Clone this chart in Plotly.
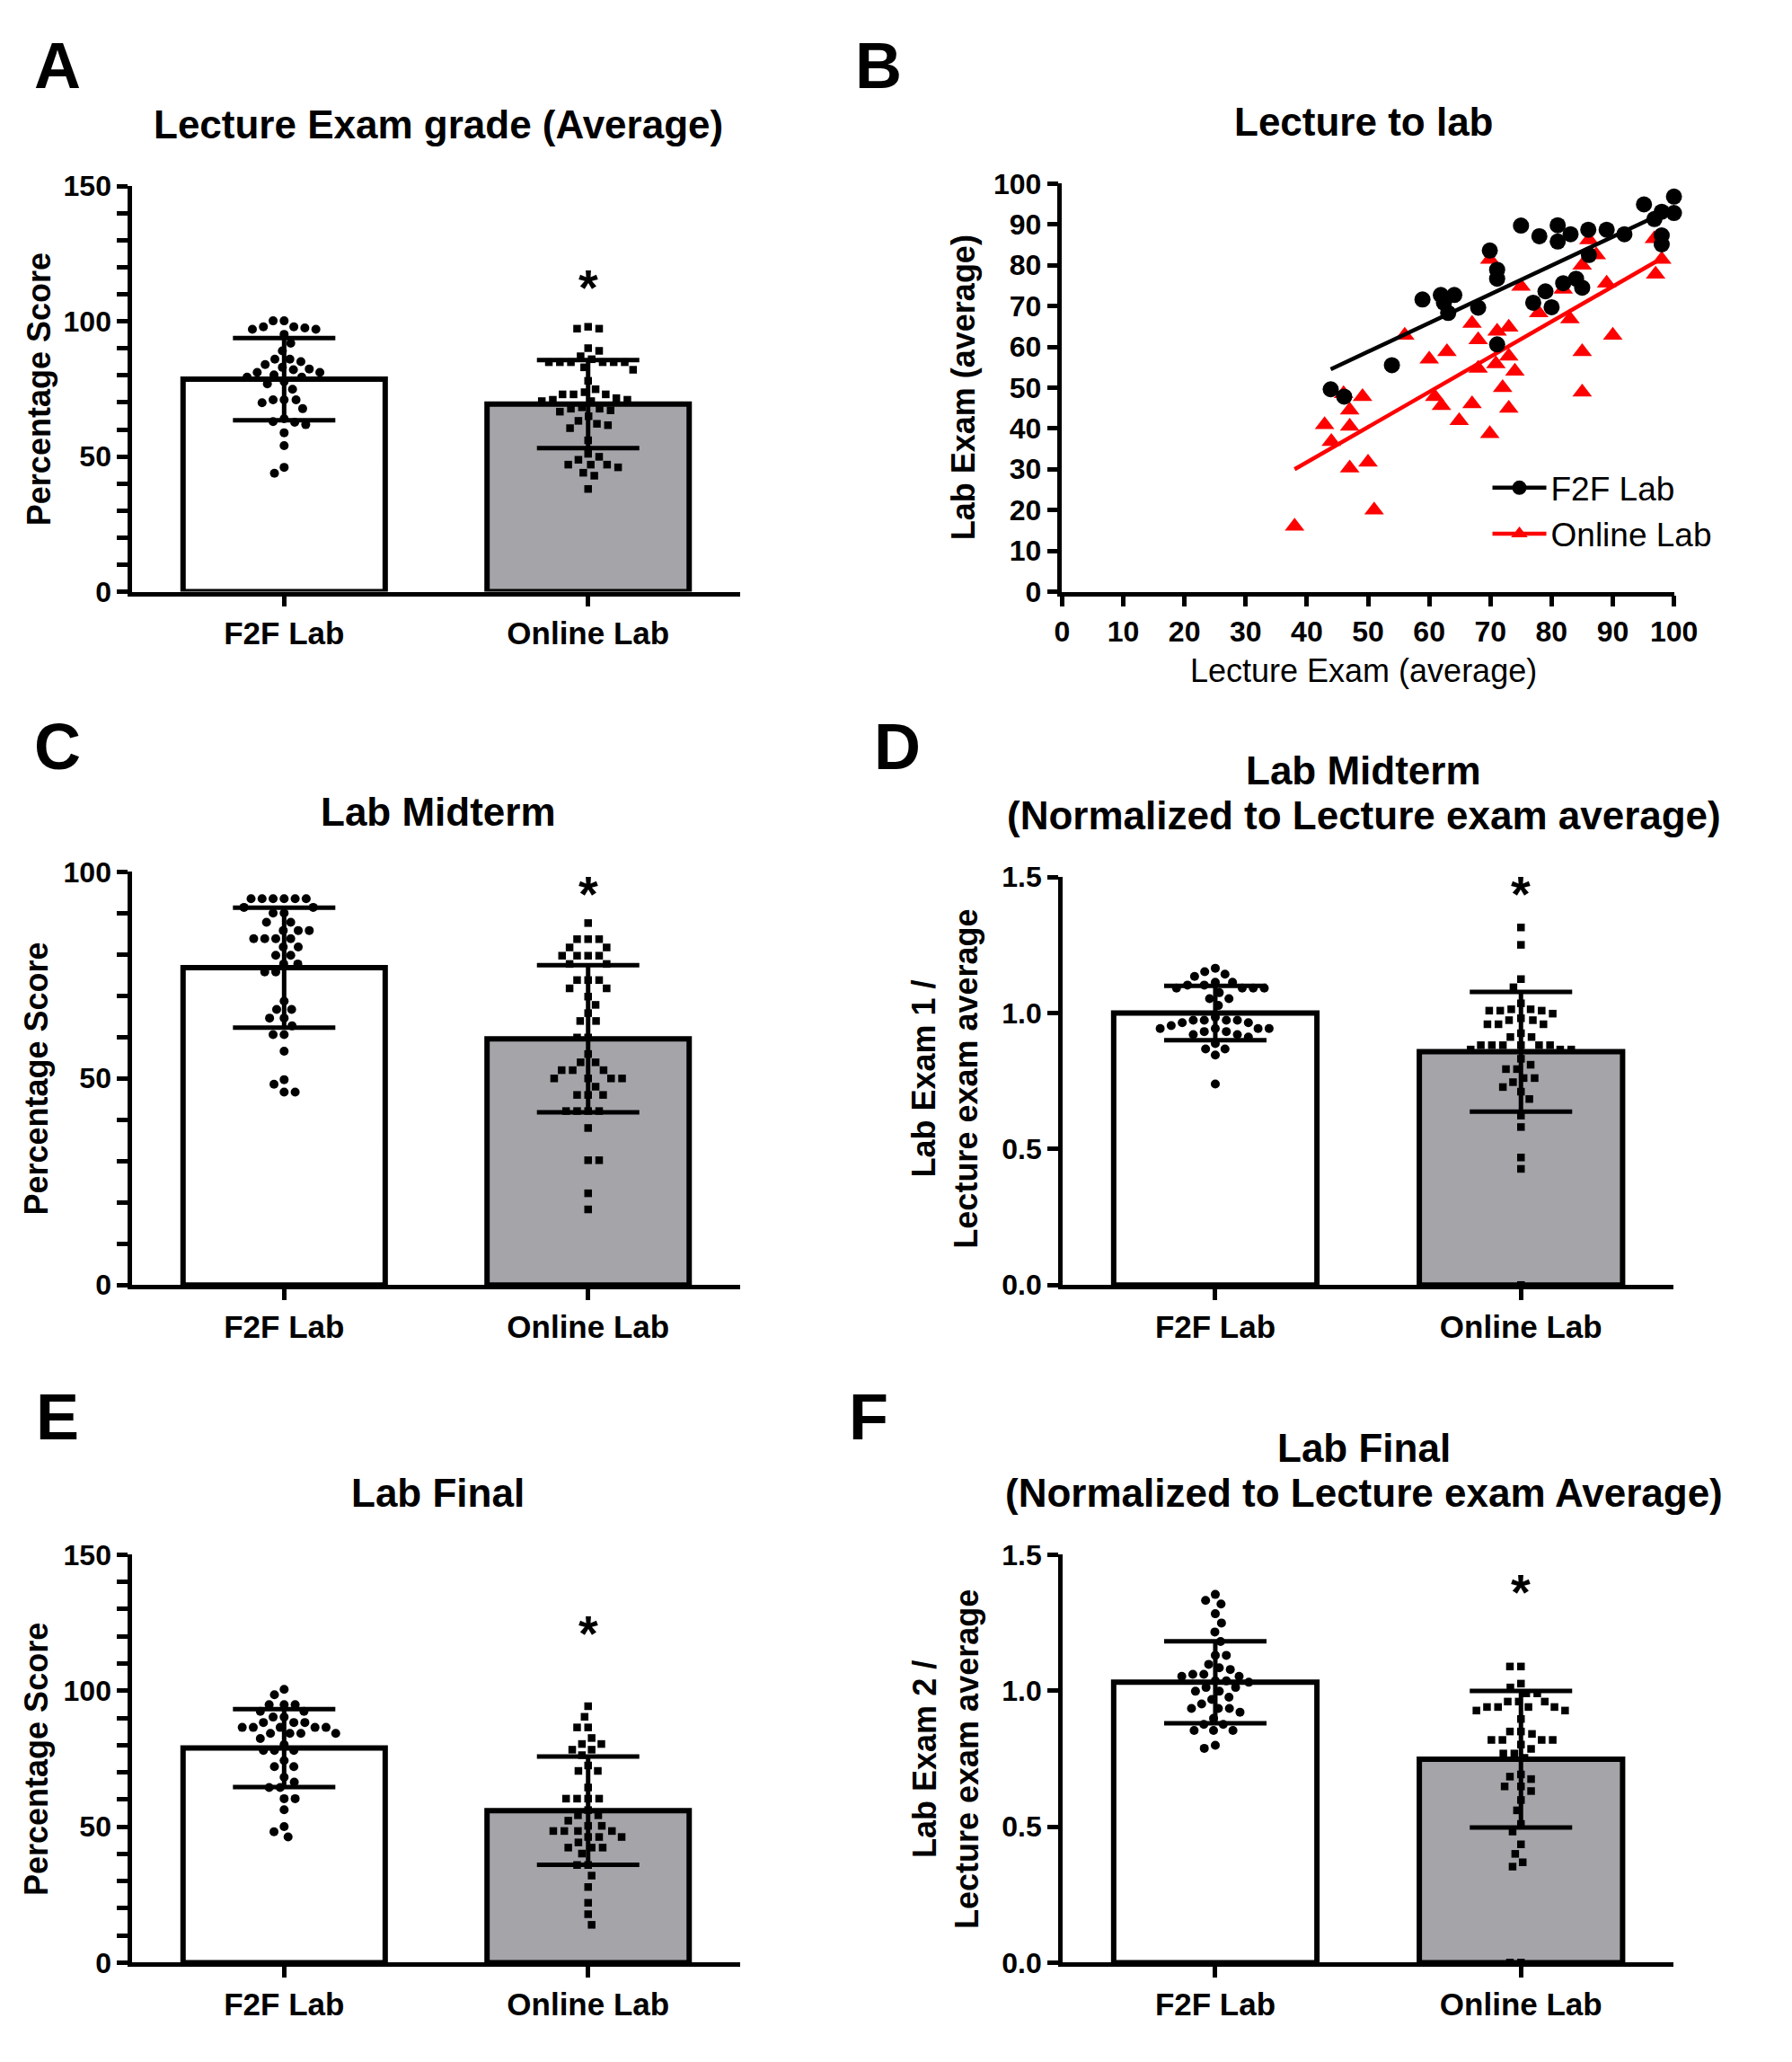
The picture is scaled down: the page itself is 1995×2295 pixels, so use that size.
import numpy as np
import plotly.graph_objects as go

# ---------------- DATA ----------------
categories = ["F2F Lab", "Online Lab"]

# Panel A: Lecture exam grade (average)
lecture_f2f = [100.2, 97.6, 97.1, 97.1, 98.0, 98.0, 100.2, 95.2, 91.9, 89.1, 86.0, 85.1, 86.0,
               84.0, 82.4, 81.1, 80.2, 81.1, 82.1, 83.0, 79.4, 79.4, 76.9, 77.7, 74.9, 71.0,
               69.9, 71.0, 71.0, 67.7, 62.9, 61.8, 64.0, 62.7, 58.8, 54.0, 46.0, 43.8]
lecture_online = [98.0, 97.3, 97.3, 90.1, 89.1, 86.0, 84.9, 84.9, 84.9, 84.9, 87.1, 84.9, 84.9,
                  83.0, 82.1, 78.0, 73.8, 73.0, 73.0, 73.0, 74.9, 71.0, 70.5, 71.6, 70.5, 71.0,
                  68.2, 67.7, 67.1, 67.7, 64.9, 66.6, 63.2, 61.6, 60.5, 62.1, 56.0, 51.0, 49.9,
                  48.8, 47.0, 47.0, 46.0, 47.0, 44.0, 42.9, 38.0]
lecture_mean = [78.6, 69.4]
lecture_sd = [15.2, 16.3]

# Panel B: Lecture to lab scatter
b_f2f_x = [43.9, 46.1, 53.9, 58.9, 61.9, 64.1, 62.4, 63.1, 68.0, 69.9, 71.1, 71.1, 71.1, 75.0,
           78.0, 81.0, 81.0, 83.1, 81.9, 84.0, 85.0, 79.0, 77.0, 80.0, 86.0, 86.1, 89.0, 91.9,
           95.1, 96.8, 98.0, 100.0, 100.0, 98.0, 98.0]
b_f2f_y = [49.6, 47.8, 55.5, 71.6, 72.7, 72.7, 70.8, 68.3, 69.6, 83.6, 78.9, 76.7, 60.6, 89.7,
           87.1, 89.8, 85.8, 87.6, 75.6, 76.7, 74.5, 73.6, 70.8, 69.7, 88.7, 82.5, 88.7, 87.6,
           94.9, 91.3, 93.1, 96.8, 92.8, 87.3, 85.1]
b_online_x = [38, 42.9, 44, 46, 47, 47, 49.1, 47, 50, 51, 56, 60, 62.9, 60.9, 62, 64.9, 67, 67,
              68, 68, 69.9, 69.9, 71.1, 73, 70.9, 73, 74, 72, 73, 75, 77.9, 81.9, 83, 85, 85, 85,
              86.1, 87.3, 89, 90, 96.8, 98, 97]
b_online_y = [16, 40.9, 36.8, 48.5, 44.5, 40.5, 47.8, 30.3, 31.7, 20, 62.8, 57, 58.8, 47.8, 45.6,
              41.9, 46, 65.7, 61.7, 54.7, 38.7, 81.4, 63.8, 64.8, 55.8, 57.7, 54, 50, 44.9, 74.8,
              68.3, 74.1, 66.8, 58.8, 48.9, 80, 86.2, 82.5, 75.6, 62.8, 86.5, 81.4, 77.8]

# Panel C: Lab midterm
mid_f2f = [93.5, 93.5, 93.5, 93.5, 93.5, 93.5, 91.4, 91.4, 90.0, 90.0, 87.8, 87.8, 85.8, 85.8,
           85.8, 83.8, 83.8, 83.8, 83.8, 81.8, 81.8, 79.8, 79.8, 77.7, 77.7, 75.8, 75.8, 68.7,
           66.7, 66.7, 64.6, 64.6, 62.7, 60.6, 60.6, 56.6, 49.7, 48.6, 46.7, 46.7]
mid_online = [87.6, 83.7, 83.7, 83.7, 81.7, 81.7, 79.7, 79.7, 79.7, 79.7, 77.7, 77.7, 73.8, 73.8,
              73.8, 71.8, 71.8, 69.8, 67.8, 65.8, 63.9, 63.9, 59.9, 59.9, 55.9, 53.9, 53.9, 52.0,
              52.0, 52.0, 50.0, 50.0, 50.0, 50.0, 48.0, 46.0, 46.0, 46.0, 42.1, 42.1, 42.1, 42.1,
              38.0, 30.2, 30.2, 22.2, 18.3]
mid_mean = [76.8, 59.6]
mid_sd = [14.5, 17.8]

# Panel D: Lab midterm normalized
midn_f2f = [1.165, 1.152, 1.143, 1.135, 1.113, 1.113, 1.103, 1.103, 1.092, 1.092, 1.092, 1.092,
            1.075, 1.053, 1.053, 1.028, 0.985, 0.974, 0.974, 0.974, 0.974, 0.965, 0.965, 0.954,
            0.943, 0.943, 0.943, 0.943, 0.932, 0.932, 0.921, 0.921, 0.912, 0.888, 0.868, 0.868,
            0.846, 0.739]
midn_online = [1.315, 1.251, 1.125, 1.095, 1.036, 1.014, 1.014, 1.009, 1.009, 1.009, 0.998, 0.981,
               0.974, 0.974, 0.959, 0.959, 0.959, 0.926, 0.912, 0.912, 0.882, 0.882, 0.882, 0.882,
               0.882, 0.882, 0.866, 0.866, 0.866, 0.832, 0.810, 0.794, 0.794, 0.761, 0.761, 0.746,
               0.728, 0.711, 0.684, 0.623, 0.581, 0.469, 0.427, 0.0]
midn_mean = [1.0, 0.858]
midn_sd = [0.10, 0.22]

# Panel E: Lab final
fin_f2f = [100.5, 98.5, 94.9, 94.9, 94.9, 92.4, 92.4, 90.3, 90.3, 88.3, 88.3, 88.3, 86.5, 86.5,
           86.5, 86.5, 86.5, 84.3, 84.3, 84.3, 84.3, 82.4, 80.2, 78.0, 78.0, 78.0, 74.3, 72.1,
           72.1, 68.2, 66.4, 64.4, 64.4, 60.3, 60.3, 56.2, 50.0, 48.1, 46.2]
fin_online = [94.3, 90.4, 86.5, 86.5, 82.6, 80.4, 80.4, 78.3, 78.3, 76.3, 72.5, 70.5, 70.5, 64.4,
              60.3, 60.3, 60.3, 60.3, 56.1, 54.2, 54.2, 52.2, 50.3, 50.3, 48.4, 48.4, 48.4, 48.4,
              46.2, 46.2, 46.2, 44.2, 42.3, 42.3, 42.3, 40.1, 35.9, 35.9, 32.0, 27.8, 22.0, 17.8,
              13.9]
fin_mean = [78.9, 55.9]
fin_sd = [14.3, 19.9]

# Panel F: Lab final normalized
finn_f2f = [1.354, 1.332, 1.319, 1.283, 1.249, 1.216, 1.181, 1.130, 1.130, 1.097, 1.084, 1.078,
            1.060, 1.060, 1.053, 1.053, 1.036, 1.036, 1.031, 1.012, 1.012, 0.998, 0.998, 0.976,
            0.968, 0.951, 0.935, 0.935, 0.935, 0.921, 0.898, 0.876, 0.876, 0.854, 0.854, 0.854,
            0.799, 0.788]
finn_online = [1.089, 1.089, 1.026, 1.012, 0.990, 0.990, 0.960, 0.960, 0.960, 0.940, 0.940, 0.940,
               0.940, 0.927, 0.927, 0.896, 0.850, 0.850, 0.841, 0.819, 0.819, 0.819, 0.819, 0.802,
               0.786, 0.769, 0.769, 0.753, 0.692, 0.684, 0.675, 0.648, 0.648, 0.631, 0.598, 0.560,
               0.510, 0.482, 0.435, 0.400, 0.369, 0.353, 0.0, 0.0]
finn_mean = [1.031, 0.748]
finn_sd = [0.151, 0.251]

# tick labels
pct150_ticks = [0, 10, 20, 30, 40, 50, 60, 70, 80, 90, 100, 110, 120, 130, 140, 150]
pct150_labels = ["0", "", "", "", "", "50", "", "", "", "", "100", "", "", "", "", "150"]
pct100_ticks = [0, 10, 20, 30, 40, 50, 60, 70, 80, 90, 100]
pct100_labels = ["0", "", "", "", "", "50", "", "", "", "", "100"]
ratio_ticks = [0.0, 0.5, 1.0, 1.5]
ratio_labels = ["0.0", "0.5", "1.0", "1.5"]
scatter_ticks = [0, 10, 20, 30, 40, 50, 60, 70, 80, 90, 100]
scatter_labels = ["0", "10", "20", "30", "40", "50", "60", "70", "80", "90", "100"]

# ---------------- STYLE / LAYOUT ----------------
W, H = 1995, 2295
FONT = "Liberation Sans, Arial, sans-serif"
GRAY = "#a5a4a9"


def yc(v):
    # small vertical calibration of paper positions
    return v + 0.0017 + 0.0068 * (v - 0.04)


XL = [0.0705, 0.4160]
XR = [0.5992, 0.9466]
XB = [0.5990, 0.9467]
Y1 = [yc(0.7102), yc(0.9086)]
Y1B = [yc(0.7102), yc(0.9099)]
Y2L = [yc(0.3709), yc(0.5731)]
Y2R = [yc(0.3709), yc(0.5705)]
Y3 = [yc(0.0393), yc(0.2389)]

star_y = {"A": 116, "C": 97, "E": 124.5, "D": 1.474, "F": 1.398}


def swarm(values, px_x, px_y, gap):
    vals = np.asarray(values, float)
    order = np.argsort(-vals, kind="stable")
    placed = []
    offs = np.zeros(len(vals))
    for cnt, i in enumerate(order):
        y = vals[i] * px_y
        n = 0
        found = None
        while found is None:
            if n == 0:
                cands = [0.0]
            else:
                cands = [n * 0.5, -n * 0.5] if cnt % 2 == 0 else [-n * 0.5, n * 0.5]
            for c in cands:
                if all((c - ox) ** 2 + (y - oy) ** 2 >= gap ** 2 for ox, oy in placed):
                    found = c
                    break
            n += 1
        placed.append((found, y))
        offs[i] = found / px_x
    return offs


fig = go.Figure()

axis_common = dict(showline=True, linewidth=4.5, linecolor="black", ticks="outside",
                   ticklen=12, tickwidth=4.5, tickcolor="black", showgrid=False,
                   zeroline=False,
                   tickfont=dict(family=FONT, size=32, color="black", weight="bold"))

bar_panels = [
    ("A", "", XL, Y1, lecture_f2f, lecture_online, lecture_mean, lecture_sd, [0, 150], pct150_ticks, pct150_labels),
    ("C", "3", XL, Y2L, mid_f2f, mid_online, mid_mean, mid_sd, [0, 100], pct100_ticks, pct100_labels),
    ("D", "4", XR, Y2R, midn_f2f, midn_online, midn_mean, midn_sd, [0, 1.5], ratio_ticks, ratio_labels),
    ("E", "5", XL, Y3, fin_f2f, fin_online, fin_mean, fin_sd, [0, 150], pct150_ticks, pct150_labels),
    ("F", "6", XR, Y3, finn_f2f, finn_online, finn_mean, finn_sd, [0, 1.5], ratio_ticks, ratio_labels),
]

annotations = []
layout_axes = {}

for key, sfx, xd, yd, f2f, onl, mean, sd, yr, tv, tt in bar_panels:
    xa = "x" + sfx
    ya = "y" + sfx
    px_x = (xd[1] - xd[0]) * W / 2.0
    px_y = (yd[1] - yd[0]) * H / (yr[1] - yr[0])
    fig.add_trace(go.Bar(x=[0, 1], y=mean, width=0.665, xaxis=xa, yaxis=ya,
                         marker=dict(color=["white", GRAY], line=dict(color="black", width=6)),
                         showlegend=False, hoverinfo="skip"))
    off_f = swarm(f2f, px_x, px_y, 12.5)
    off_o = swarm(onl, px_x, px_y, 12.5)
    fig.add_trace(go.Scatter(x=0 + off_f, y=f2f, mode="markers", xaxis=xa, yaxis=ya,
                             marker=dict(symbol="circle", size=10, color="black"),
                             cliponaxis=False, showlegend=False))
    fig.add_trace(go.Scatter(x=1 + off_o, y=onl, mode="markers", xaxis=xa, yaxis=ya,
                             marker=dict(symbol="square", size=8.5, color="black"),
                             cliponaxis=False, showlegend=False))
    fig.add_trace(go.Scatter(x=[0, 1], y=mean, mode="markers", xaxis=xa, yaxis=ya,
                             marker=dict(size=1, color="rgba(0,0,0,0)"),
                             error_y=dict(type="data", array=sd, width=57, thickness=5,
                                          color="black"),
                             cliponaxis=False, showlegend=False))
    layout_axes["xaxis" + sfx] = dict(axis_common, domain=xd, anchor=ya, range=[-0.5, 1.5],
                                      tickvals=[0, 1], ticktext=categories, fixedrange=True,
                                      tickfont=dict(family=FONT, size=35, color="black",
                                                    weight="bold"))
    layout_axes["yaxis" + sfx] = dict(axis_common, domain=yd, anchor=xa, range=yr,
                                      tickvals=tv, ticktext=tt)
    annotations.append(dict(x=1, y=star_y[key], xref=xa, yref=ya, text="*", showarrow=False,
                            font=dict(family=FONT, size=56, color="black", weight="bold"),
                            yanchor="middle", yshift=-10))

# Panel B scatter
fit_f = np.polyfit(b_f2f_x, b_f2f_y, 1)
fit_o = np.polyfit(b_online_x, b_online_y, 1)
fx = np.array([min(b_f2f_x), max(b_f2f_x)])
ox = np.array([min(b_online_x), max(b_online_x)])

fig.add_trace(go.Scatter(x=b_online_x, y=b_online_y, mode="markers", xaxis="x2", yaxis="y2",
                         marker=dict(symbol="triangle-up", size=19, color="#ff0000"),
                         cliponaxis=False, showlegend=False))
fig.add_trace(go.Scatter(x=ox, y=np.polyval(fit_o, ox), mode="lines", xaxis="x2", yaxis="y2",
                         line=dict(color="#ff0000", width=4.5), showlegend=False))
fig.add_trace(go.Scatter(x=b_f2f_x, y=b_f2f_y, mode="markers", xaxis="x2", yaxis="y2",
                         marker=dict(symbol="circle", size=18, color="black"),
                         cliponaxis=False, showlegend=False))
fig.add_trace(go.Scatter(x=fx, y=np.polyval(fit_f, fx), mode="lines", xaxis="x2", yaxis="y2",
                         line=dict(color="black", width=4.5), showlegend=False))
fig.add_trace(go.Scatter(x=[None], y=[None], mode="lines+markers", xaxis="x2", yaxis="y2",
                         name="F2F Lab", line=dict(color="black", width=4.5),
                         marker=dict(symbol="circle", size=18, color="black")))
fig.add_trace(go.Scatter(x=[None], y=[None], mode="lines+markers", xaxis="x2", yaxis="y2",
                         name="Online Lab", line=dict(color="#ff0000", width=4.5),
                         marker=dict(symbol="triangle-up", size=19, color="#ff0000")))

layout_axes["xaxis2"] = dict(axis_common, domain=XB, anchor="y2", range=[0, 100],
                             tickvals=scatter_ticks, ticktext=scatter_labels)
layout_axes["yaxis2"] = dict(axis_common, domain=Y1B, anchor="x2", range=[0, 100],
                             tickvals=scatter_ticks, ticktext=scatter_labels)


def ann(x, y, text, size, bold=True, angle=0):
    return dict(x=x, y=yc(y), xref="paper", yref="paper", text=text, showarrow=False,
                textangle=angle, xanchor="center", yanchor="middle",
                font=dict(family=FONT, size=size, color="black",
                          weight="bold" if bold else "normal"))


for letter, lx, ly in [("A", 0.0281, 0.9678), ("B", 0.4948, 0.9678), ("C", 0.0281, 0.6343),
                       ("D", 0.5052, 0.6343), ("E", 0.0281, 0.3065), ("F", 0.4889, 0.3065)]:
    annotations.append(ann(lx, ly, letter, 72))

annotations += [
    ann(0.2444, 0.9388, "Lecture Exam grade (Average)", 44),
    ann(0.7705, 0.9400, "Lecture to lab", 44),
    ann(0.2444, 0.6027, "Lab Midterm", 44),
    ann(0.7705, 0.6227, "Lab Midterm", 44),
    ann(0.7705, 0.6008, "(Normalized to Lecture exam average)", 44),
    ann(0.2444, 0.2692, "Lab Final", 44),
    ann(0.7705, 0.2910, "Lab Final", 44),
    ann(0.7705, 0.2692, "(Normalized to Lecture exam Average)", 44),
    ann(0.0180, 0.8094, "Percentage Score", 36, angle=-90),
    ann(0.0160, 0.4720, "Percentage Score", 36, angle=-90),
    ann(0.0160, 0.1390, "Percentage Score", 36, angle=-90),
    ann(0.5430, 0.8100, "Lab Exam (average)", 36, angle=-90),
    ann(0.7705, 0.6716, "Lecture Exam (average)", 36, bold=False),
    ann(0.5326, 0.4720, "Lab Exam 1 /<br>Lecture exam average", 36, angle=-90),
    ann(0.5326, 0.1390, "Lab Exam 2 /<br>Lecture exam average", 36, angle=-90),
]

fig.update_layout(
    width=W, height=H, autosize=False,
    margin=dict(l=0, r=0, t=0, b=0),
    paper_bgcolor="white", plot_bgcolor="white",
    font=dict(family=FONT, color="black"),
    annotations=annotations,
    showlegend=True,
    legend=dict(x=0.841, y=yc(0.7745), xanchor="left", yanchor="top",
                bgcolor="rgba(0,0,0,0)", font=dict(family=FONT, size=37, color="black"),
                itemwidth=60, tracegroupgap=0),
    **layout_axes,
)

fig.write_html("out.html", config={"displayModeBar": False},
               post_script="document.body.style.margin='0px';")
